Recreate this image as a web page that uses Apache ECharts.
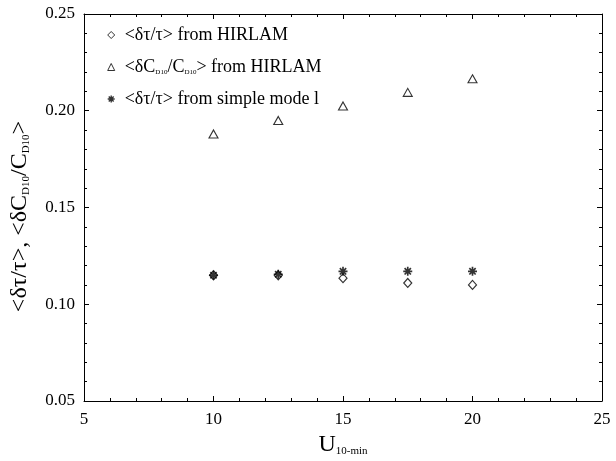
<!DOCTYPE html>
<html>
<head>
<meta charset="utf-8">
<script src="https://cdn.jsdelivr.net/npm/echarts@6/dist/echarts.min.js"></script>
<style>
  html, body { margin: 0; padding: 0; background: #fff; }
  #chart { width: 616px; height: 461px; }
</style>
</head>
<body>
<div id="chart"></div>
<script>
var windSpeed = [10, 12.5, 15, 17.5, 20];
var tauHirlam = [0.115, 0.115, 0.1135, 0.111, 0.110];
var cdHirlam = [0.188, 0.195, 0.2025, 0.2095, 0.2165];
var tauSimple = [0.115, 0.1155, 0.117, 0.117, 0.117];

var xTicks = { min: 5, max: 25, interval: 5 };
var yTicks = { min: 0.05, max: 0.25, interval: 0.05 };

var serif = '"Liberation Serif", "DejaVu Serif", serif';
var asterisk = 'path://M0,5L10,5M5,0L5,10M1.5,1.5L8.5,8.5M8.5,1.5L1.5,8.5';

function pairs(ys) {
    return windSpeed.map(function (x, i) { return [x, ys[i]]; });
}

var myChart = echarts.init(document.getElementById('chart'), null, { renderer: 'canvas' });

function frameAxis(pos, isX) {
    return {
        type: 'value',
        position: pos,
        min: isX ? xTicks.min : yTicks.min,
        max: isX ? xTicks.max : yTicks.max,
        interval: isX ? xTicks.interval : yTicks.interval,
        axisLine: { show: true, onZero: false, lineStyle: { color: '#000', width: 1 } },
        axisTick: { show: true, inside: true, length: 5, lineStyle: { color: '#000' } },
        minorTick: { show: true, splitNumber: 5, length: 3, lineStyle: { color: '#000' } },
        splitLine: { show: false },
        axisLabel: { show: false }
    };
}

var titleRich = {
    b: { fontFamily: serif, fontSize: 24, color: '#000' },
    s: { fontFamily: serif, fontSize: 11, color: '#000', verticalAlign: 'bottom', padding: [9, 0, 0, 0] }
};

var xMain = frameAxis('bottom', true);
xMain.axisLabel = { show: true, color: '#000', fontFamily: serif, fontSize: 17, margin: 10 };
xMain.name = '{b|U}{s|10-min}';
xMain.nameLocation = 'middle';
xMain.nameGap = 29;
xMain.nameTextStyle = { rich: titleRich };

var yMain = frameAxis('left', false);
yMain.axisLabel = {
    show: true, color: '#000', fontFamily: serif, fontSize: 17, margin: 9,
    formatter: function (v) { return v.toFixed(2); }
};
yMain.name = '{b|<δτ/τ>, <δC}{s|D10}{b|/C}{s|D10}{b|>}';
yMain.nameLocation = 'middle';
yMain.nameRotate = 90;
yMain.nameGap = 52;
yMain.nameTextStyle = { rich: titleRich, padding: [0, 18, 0, 0] };

var option = {
    backgroundColor: '#fff',
    animation: false,
    grid: { left: 84, right: 14, top: 14, bottom: 60, outerBoundsMode: 'none' },
    xAxis: [xMain, frameAxis('top', true)],
    yAxis: [yMain, frameAxis('right', false)],
    legend: {
        orient: 'vertical',
        left: 102,
        top: 21,
        itemWidth: 7,
        itemHeight: 7,
        itemGap: 14,
        data: [
            { name: 'tauH', itemStyle: { borderWidth: 1 } },
            { name: 'cdH', itemStyle: { borderWidth: 1 } },
            { name: 'tauS', itemStyle: { borderWidth: 1.4 } }
        ],
        formatter: function (name) {
            if (name === 'tauH') return '{t|<δτ/τ> from HIRLAM}';
            if (name === 'cdH') return '{t|<δC}{s|D10}{t|/C}{s|D10}{t|> from HIRLAM}';
            return '{t|<δτ/τ> from simple mode l}';
        },
        textStyle: {
            padding: [0, 0, 0, 5],
            rich: {
                t: { fontFamily: serif, fontSize: 18, color: '#000' },
                s: { fontFamily: serif, fontSize: 7, color: '#000', verticalAlign: 'bottom', padding: [5, 0, 0, 0] }
            }
        }
    },
    series: [
        {
            name: 'tauH', type: 'scatter', data: pairs(tauHirlam),
            symbol: 'diamond', symbolSize: [8, 9],
            itemStyle: { color: '#fff', borderColor: '#000', borderWidth: 1.2 }
        },
        {
            name: 'cdH', type: 'scatter', data: pairs(cdHirlam),
            symbol: 'triangle', symbolSize: [9, 8],
            itemStyle: { color: '#fff', borderColor: '#000', borderWidth: 1.1 }
        },
        {
            name: 'tauS', type: 'scatter', data: pairs(tauSimple),
            symbol: asterisk, symbolSize: 9,
            itemStyle: { color: 'rgba(0,0,0,0)', borderColor: '#000', borderWidth: 1.7 }
        }
    ]
};

myChart.setOption(option);
</script>
</body>
</html>
